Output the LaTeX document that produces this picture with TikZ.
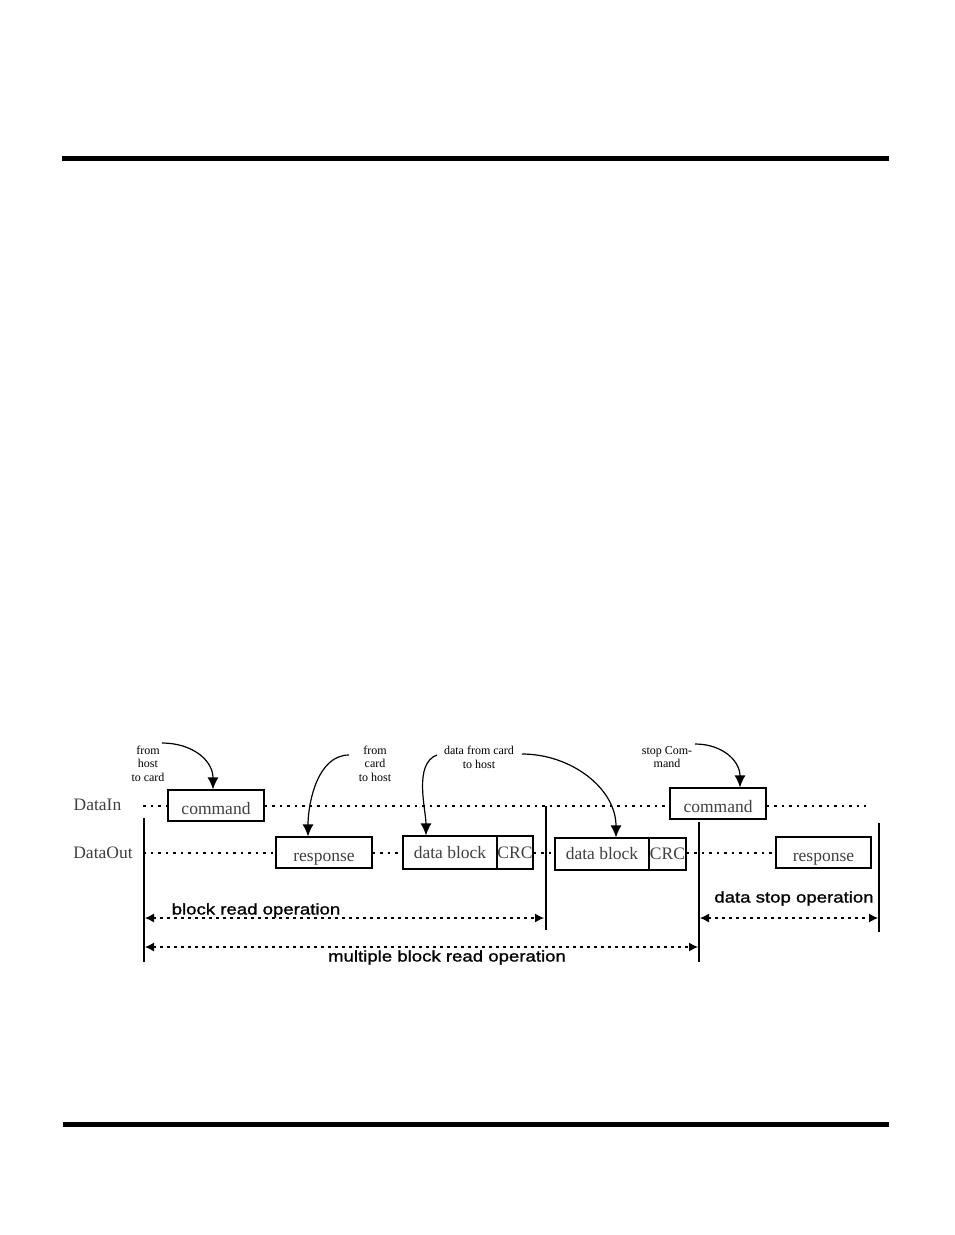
\documentclass[tikz,border=0pt]{standalone}
\usepackage{fontspec}
\setmainfont{Liberation Serif}
\newfontfamily\opsans[FakeStretch=1.2,FakeBold=1.2]{Liberation Sans}
\usetikzlibrary{arrows.meta}
\definecolor{txtgray}{HTML}{404040}
\begin{document}
\begin{tikzpicture}[x=1pt,y=-1pt,
  pkt/.style={draw,line width=1.2pt,minimum height=31pt,inner sep=0pt,
    text height=18pt,text depth=0pt,
    font=\fontsize{17.5}{19}\selectfont,text=txtgray},
  datapkt/.style={pkt,text height=11pt,text depth=0pt},
  dotline/.style={line width=1.2pt,dash pattern=on 2.5pt off 5pt},
  vline/.style={line width=1.4pt},
  rule/.style={line width=5pt},
  note/.style={align=center,font=\fontsize{12}{13.5}\selectfont,inner sep=0pt},
  lbl/.style={font=\fontsize{17.5}{19}\selectfont,text=txtgray,inner sep=0pt},
  oplbl/.style={font=\opsans\fontsize{15.5}{17}\selectfont,inner sep=0pt},
  curvearrow/.style={line width=1.2pt,-{Latex[length=12pt,width=11pt]}},
  oparrow/.style={line width=1.1pt,dash pattern=on 2.5pt off 4.5pt,
    {Latex[length=9pt,width=9pt]}-{Latex[length=9pt,width=9pt]}}
]
\useasboundingbox (0,0) rectangle (954,1235);
% page rules
\coordinate (t0) at (62,158.5); \coordinate (t1) at (889,158.5);
\draw[rule] (t0) -- (t1);
\coordinate (b0) at (63,1124.5); \coordinate (b1) at (889,1124.5);
\draw[rule] (b0) -- (b1);

% row labels
\node[lbl] (datain) at (97.5,805) {DataIn};
\node[lbl] (dataout) at (103,853) {DataOut};

% packets
\node[pkt,minimum width=96pt] (cmdA) at (216,805.5) {command};
\node[pkt,minimum width=96pt] (rspA) at (324,852.5) {response};
\node[datapkt,minimum width=94pt,minimum height=33pt] (dbA) at (450,852.5) {data block};
\node[datapkt,minimum width=36pt,minimum height=33pt] (crcA) at (515,852.5) {CRC};
\node[datapkt,minimum width=94pt,minimum height=32pt] (dbB) at (602,854) {data block};
\node[datapkt,minimum width=37pt,minimum height=32pt] (crcB) at (667.5,854) {CRC};
\node[pkt,minimum width=96pt] (cmdB) at (718,803.5) {command};
\node[pkt,minimum width=95pt] (rspB) at (823.5,852.5) {response};

% dotted bus lines
\coordinate (in0) at (143,806); \coordinate (in1) at (866,806);
\draw[dotline] (in0) -- (in0 -| cmdA.west);
\draw[dotline] (in0 -| cmdA.east) -- (in0 -| cmdB.west);
\draw[dotline] (in0 -| cmdB.east) -- (in1);
\coordinate (out0) at (143,853);
\draw[dotline] (out0) -- (out0 -| rspA.west);
\draw[dotline] (out0 -| rspA.east) -- (out0 -| dbA.west);
\draw[dotline] (out0 -| crcA.east) -- (out0 -| dbB.west);
\draw[dotline] (out0 -| crcB.east) -- (out0 -| rspB.west);

% vertical markers
\coordinate (v1a) at (144,818); \coordinate (v1b) at (144,962);
\coordinate (v2a) at (546,806); \coordinate (v2b) at (546,930);
\coordinate (v3a) at (699,822); \coordinate (v3b) at (699,962);
\coordinate (v4a) at (879,823); \coordinate (v4b) at (879,932);
\draw[vline] (v1a) -- (v1b);
\draw[vline] (v2a) -- (v2b);
\draw[vline] (v3a) -- (v3b);
\draw[vline] (v4a) -- (v4b);

% operation arrows
\coordinate (o1a) at (145,918); \coordinate (o1b) at (544,918);
\draw[oparrow] (o1a) -- (o1b);
\node[oplbl] (l1) at (256,910.5) {block read operation};
\coordinate (o2a) at (145,947); \coordinate (o2b) at (698,947);
\draw[oparrow] (o2a) -- (o2b);
\node[oplbl] (l2) at (447,957.5) {multiple block read operation};
\coordinate (o3a) at (700,918); \coordinate (o3b) at (878,918);
\draw[oparrow] (o3a) -- (o3b);
\node[oplbl] (l3) at (794,898.5) {data stop operation};

% annotations
\node[note] (n1) at (148,763.5) {from\\host\\to card};
\node[note] (n2) at (375,763.5) {from\\card\\to host};
\node[note] (n3) at (479,757.5) {data from card\\to host};
\node[note] (n4) at (667,757) {stop Com-\\mand};

\coordinate (s1) at (162,743);
\coordinate (s2) at (349,755);
\coordinate (s3) at (437,755);
\coordinate (s4) at (522,754);
\coordinate (s5) at (695,744);
\draw[curvearrow] (s1) to[out=0,in=90,looseness=1.1] (cmdA.north -| 213,0);
\draw[curvearrow] (s2) to[out=180,in=90,looseness=0.9] (rspA.north -| 308,0);
\draw[curvearrow] (s3) to[out=200,in=90,looseness=0.8] (dbA.north -| 426,0);
\draw[curvearrow] (s4) to[out=0,in=90,looseness=1.0] (dbB.north -| 616,0);
\draw[curvearrow] (s5) to[out=0,in=90,looseness=1.1] (cmdB.north -| 740,0);
\end{tikzpicture}
\end{document}
